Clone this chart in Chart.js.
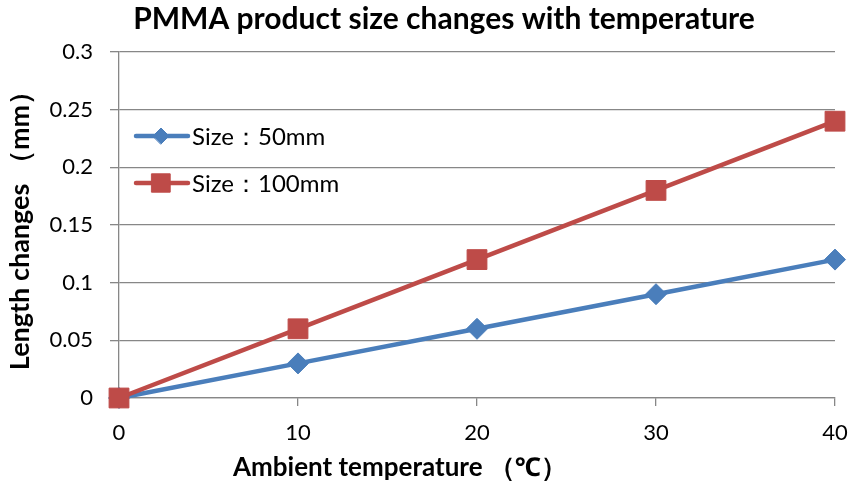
<!DOCTYPE html>
<html>
<head>
<meta charset="utf-8">
<script src="https://cdn.jsdelivr.net/npm/chart.js@4.4.1/dist/chart.umd.min.js"></script>
<style>
  html, body { margin: 0; padding: 0; background: #fff; }
  #wrap { position: relative; width: 850px; height: 487px; }
</style>
</head>
<body>
<div id="wrap"><canvas id="chartCanvas" width="850" height="487"></canvas></div>
<script>
// values
const temperatures = [0, 10, 20, 30, 40];
const size50 = [0, 0.03, 0.06, 0.09, 0.12];
const size100 = [0, 0.06, 0.12, 0.18, 0.24];
const seriesLabels = ['Size：50mm', 'Size：100mm'];
const chartTitle = 'PMMA product size changes with temperature';
const xTitle = 'Ambient temperature （℃）';
const yTitle = 'Length changes （mm）';

const FONT = 'Lato, "Noto Sans", sans-serif';
const GRID = '#878787';
const BLUE = '#4a7ebb';
const RED = '#be4b48';

const toPoints = vals => temperatures.map((t, i) => ({ x: t, y: vals[i] }));

// title, axis titles and the in-plot legend are drawn by hand
const decorations = {
    id: 'decorations',
    afterDraw(chart) {
        const ctx = chart.ctx;
        ctx.save();
        ctx.fillStyle = '#000';
        ctx.textBaseline = 'middle';
        ctx.textAlign = 'center';
        ctx.font = 'bold 30px ' + FONT;
        ctx.fillText(chartTitle, 444, 19);

        ctx.font = 'bold 26px ' + FONT;
        ctx.fillText(xTitle, 400, 468);

        ctx.save();
        ctx.translate(20, 224);
        ctx.rotate(-Math.PI / 2);
        ctx.font = 'bold 27px ' + FONT;
        ctx.fillText(yTitle, 0, 0);
        ctx.restore();

        // legend
        const markerSize = [8, 13];
        ctx.textAlign = 'left';
        ctx.font = '24px ' + FONT;
        chart.data.datasets.forEach((ds, i) => {
            const y = 136 + i * 47;
            ctx.strokeStyle = ds.borderColor;
            ctx.lineWidth = 4.5;
            ctx.lineCap = 'round';
            ctx.beginPath();
            ctx.moveTo(136, y);
            ctx.lineTo(188, y);
            ctx.stroke();
            ctx.fillStyle = ds.backgroundColor;
            ctx.lineWidth = 1;
            Chart.helpers.drawPoint(ctx, { pointStyle: ds.pointStyle, radius: markerSize[i], rotation: 0, borderWidth: 1 }, 161, y);
            ctx.fillStyle = '#000';
            ctx.fillText(ds.label, 192, y + 1);
        });
        ctx.restore();
    }
};

const ctx = document.getElementById('chartCanvas').getContext('2d');
new Chart(ctx, {
    type: 'line',
    data: {
        datasets: [
            {
                label: seriesLabels[0],
                data: toPoints(size50),
                borderColor: BLUE,
                backgroundColor: BLUE,
                borderWidth: 4.5,
                pointStyle: 'rectRot',
                pointRadius: 10.5,
                pointBorderWidth: 1,
                order: 1,
                clip: false
            },
            {
                label: seriesLabels[1],
                data: toPoints(size100),
                borderColor: RED,
                backgroundColor: RED,
                borderWidth: 4.5,
                pointStyle: 'rect',
                pointRadius: 14,
                pointBorderWidth: 1,
                order: 0,
                clip: false
            }
        ]
    },
    options: {
        responsive: false,
        animation: false,
        layout: { padding: { top: 52, right: 14, left: 0, bottom: 0 } },
        plugins: {
            legend: { display: false },
            title: { display: false },
            tooltip: { enabled: false }
        },
        scales: {
            x: {
                type: 'linear',
                min: 0,
                max: 40,
                ticks: { stepSize: 10, color: '#000', font: { family: FONT, size: 22 }, padding: 14 },
                grid: { drawOnChartArea: false, drawTicks: true, tickLength: 8, color: GRID, lineWidth: 1.3 },
                border: { color: GRID, width: 1.3 },
                afterFit: s => { s.height = 89; s.paddingLeft = 0; s.paddingRight = 0; }
            },
            y: {
                min: 0,
                max: 0.3,
                ticks: {
                    stepSize: 0.05,
                    color: '#000',
                    font: { family: FONT, size: 22 },
                    padding: 17,
                    callback: v => String(+v.toFixed(2))
                },
                grid: { color: GRID, lineWidth: 1.3, tickLength: 9 },
                border: { color: GRID, width: 1.3 },
                afterFit: s => { s.width = 119; }
            }
        }
    },
    plugins: [decorations]
});
</script>
</body>
</html>
